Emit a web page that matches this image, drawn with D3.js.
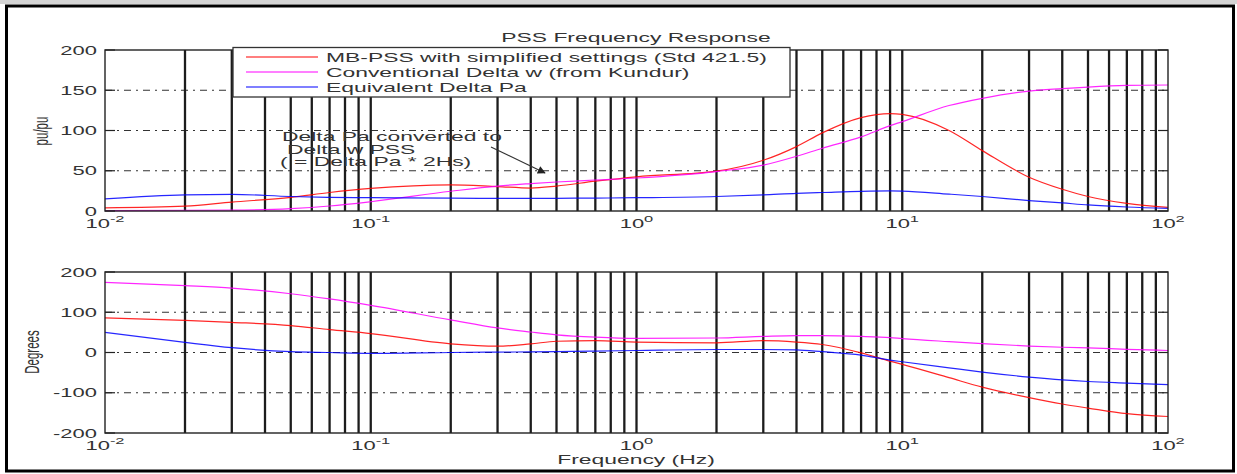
<!DOCTYPE html>
<html>
<head>
<meta charset="utf-8">
<script src="https://cdn.jsdelivr.net/npm/d3@7"></script>
<style>
  body { margin: 0; background: #fff; }
  text { font-family: "Liberation Sans", Arial, sans-serif; fill: #333; }
</style>
</head>
<body>
<div id="chart"></div>
<script>
// chart data
var freqs = [0.01, 0.02, 0.03, 0.05, 0.07, 0.1, 0.2, 0.3, 0.4, 0.5, 0.7, 1, 2, 3, 4, 5, 7, 9, 10, 15, 20, 30, 40, 50, 70, 100];

var magMbPss  = [4, 6, 11, 17, 23, 28, 32.5, 30.3, 28.5, 31, 37, 42.5, 49.5, 63, 80, 97, 116, 121, 120, 100, 75, 42, 27, 18, 9.5, 4.5];
var magConv   = [0.5, 0.7, 1, 3, 6.2, 11.5, 24.5, 31, 34, 36, 38.5, 41, 49, 57, 68, 78, 92, 106, 111, 131, 140, 149, 152, 154, 156, 156.5];
var magDeltaPa = [15, 20, 20.7, 18, 17, 16.5, 16, 15.7, 15.7, 15.8, 16, 16.5, 18, 20, 22, 23, 24.5, 25, 24.8, 21, 18, 13, 10, 7.5, 5, 3.3];

var phMbPss   = [86, 80, 75, 67, 57, 47, 21.5, 15.6, 21.5, 28, 29.6, 26, 24, 29.6, 26, 19.8, -1, -21.5, -29.6, -62.5, -86, -112, -128, -138, -152, -159];
var phConv    = [174, 166, 160, 146, 133, 117, 81, 61, 51, 44, 38, 35, 36, 40, 42, 42, 40, 37, 34.6, 27, 22, 16, 13, 11.5, 8, 5];
var phDeltaPa = [50, 25, 12, 2, 0, -2, 0, 1, 1.5, 2, 3.5, 5, 7.5, 7.5, 6.5, 2, -6.5, -19, -23, -38, -48.6, -61, -68, -72, -76, -80];

var seriesNames = ["MB-PSS with simplified settings (Std 421.5)", "Conventional Delta w (from Kundur)", "Equivalent Delta Pa"];
var seriesColors = ["#ff0000", "#ff00ff", "#0000ff"];

var magTicks = [0, 50, 100, 150, 200];
var phaseTicks = [-200, -100, 0, 100, 200];
var decadeExps = [-2, -1, 0, 1, 2];

var noteLines = ["Delta Pa converted to", "Delta w PSS", "( = Delta Pa * 2Hs)"];

// the source picture is stretched sideways, so text is too
var SX = 1.83;

var width = 1237, height = 474;

var svg = d3.select("#chart").append("svg")
    .attr("width", width)
    .attr("height", height);

// outer frame
svg.append("rect").attr("x", 0).attr("y", 0).attr("width", width).attr("height", 4).attr("fill", "#d4d4d4");
svg.append("rect")
    .attr("x", 6.5).attr("y", 6).attr("width", 1227).attr("height", 465)
    .attr("fill", "none").attr("stroke", "#000").attr("stroke-width", 3);

var x = d3.scaleLog().domain([0.01, 100]).range([105, 1168]);
var yMag = d3.scaleLinear().domain([0, 200]).range([211, 50]);
var yPh = d3.scaleLinear().domain([-200, 200]).range([433, 272]);

function stretched(g, px, py, str, anchor, size) {
  return g.append("text")
    .attr("transform", "translate(" + px + "," + py + ") scale(" + SX + ",1)")
    .attr("text-anchor", anchor || "start")
    .attr("font-size", size || 12.5)
    .text(str);
}

function drawPanel(y, ticks, series, labelY) {
  var g = svg.append("g");
  var x0 = x.range()[0], x1 = x.range()[1];
  var yb = y.range()[0], yt = y.range()[1];

  // dash-dot horizontal grid
  g.selectAll("line.hgrid")
    .data(ticks.slice(1, -1))
    .enter().append("line")
    .attr("class", "hgrid")
    .attr("x1", x0).attr("x2", x1)
    .attr("y1", function(d) { return y(d); })
    .attr("y2", function(d) { return y(d); })
    .attr("stroke", "#333").attr("stroke-width", 1.1)
    .attr("stroke-dasharray", "7,5,2,5");

  // heavy vertical grid lines at every log tick
  g.selectAll("line.vgrid")
    .data(x.ticks().filter(function(d) { return d > 0.0100001 && d < 99.999; }))
    .enter().append("line")
    .attr("class", "vgrid")
    .attr("x1", function(d) { return x(d); })
    .attr("x2", function(d) { return x(d); })
    .attr("y1", yt).attr("y2", yb)
    .attr("stroke", "#1c1c1c").attr("stroke-width", 2.3);

  // curves
  var line = d3.line()
    .x(function(d) { return x(d[0]); })
    .y(function(d) { return y(d[1]); })
    .curve(d3.curveMonotoneX);

  series.forEach(function(vals, i) {
    g.append("path")
      .datum(freqs.map(function(f, j) { return [f, vals[j]]; }))
      .attr("d", line)
      .attr("fill", "none")
      .attr("stroke", seriesColors[i])
      .attr("stroke-width", 1.2)
      .attr("stroke-opacity", 0.85);
  });

  // box
  g.append("rect")
    .attr("x", x0).attr("y", yt).attr("width", x1 - x0).attr("height", yb - yt)
    .attr("fill", "none").attr("stroke", "#222").attr("stroke-width", 1.4);

  // y ticks, both sides
  ticks.forEach(function(t) {
    g.append("line").attr("x1", x0).attr("x2", x0 + 10).attr("y1", y(t)).attr("y2", y(t))
      .attr("stroke", "#222").attr("stroke-width", 1.2);
    g.append("line").attr("x1", x1 - 10).attr("x2", x1).attr("y1", y(t)).attr("y2", y(t))
      .attr("stroke", "#222").attr("stroke-width", 1.2);
    stretched(g, 97, y(t) + 4.5, String(t), "end", 12);
  });

  // x tick labels 10^n
  decadeExps.forEach(function(e) {
    var t = g.append("text")
      .attr("transform", "translate(" + x(Math.pow(10, e)) + "," + (labelY) + ") scale(" + SX + ",1)")
      .attr("text-anchor", "middle")
      .attr("font-size", 12);
    t.append("tspan").text("10");
    t.append("tspan").attr("dy", -6).attr("font-size", 9).text(e);
  });

  return g;
}

drawPanel(yMag, magTicks, [magMbPss, magConv, magDeltaPa], 228);
drawPanel(yPh, phaseTicks, [phMbPss, phConv, phDeltaPa], 450);

// title and axis labels
stretched(svg, 636, 42, "PSS Frequency Response", "middle");
stretched(svg, 636, 464, "Frequency (Hz)", "middle");

svg.append("text")
  .attr("transform", "translate(41,131) rotate(-90) scale(1,1.8)")
  .attr("text-anchor", "middle").attr("dominant-baseline", "central")
  .attr("font-size", 11.5).text("pu/pu");
svg.append("text")
  .attr("transform", "translate(32,352) rotate(-90) scale(1,1.8)")
  .attr("text-anchor", "middle").attr("dominant-baseline", "central")
  .attr("font-size", 11.5).text("Degrees");

// legend
var leg = svg.append("g");
leg.append("rect")
  .attr("x", 233).attr("y", 47.5).attr("width", 557).attr("height", 49.5)
  .attr("fill", "#fff").attr("stroke", "#333").attr("stroke-width", 1.3);
seriesNames.forEach(function(name, i) {
  var ly = 57 + i * 15;
  leg.append("line").attr("x1", 246).attr("x2", 318).attr("y1", ly).attr("y2", ly)
    .attr("stroke", seriesColors[i]).attr("stroke-width", 1.2);
  stretched(leg, 326, ly + 4.5, name, "start");
});

// annotation with arrow
var noteX = [282, 287, 280];
noteLines.forEach(function(s, i) {
  stretched(svg, noteX[i], 141 + i * 12.5, s, "start");
});
svg.append("defs").append("marker")
  .attr("id", "arrowhead")
  .attr("viewBox", "0 0 10 10").attr("refX", 9).attr("refY", 5)
  .attr("markerWidth", 10).attr("markerHeight", 8).attr("markerUnits", "userSpaceOnUse")
  .attr("orient", "auto")
  .append("path").attr("d", "M0,0 L10,5 L0,10 z").attr("fill", "#222");
svg.append("line")
  .attr("x1", 491).attr("y1", 147).attr("x2", 545).attr("y2", 173)
  .attr("stroke", "#333").attr("stroke-width", 1.2)
  .attr("marker-end", "url(#arrowhead)");
</script>
</body>
</html>
